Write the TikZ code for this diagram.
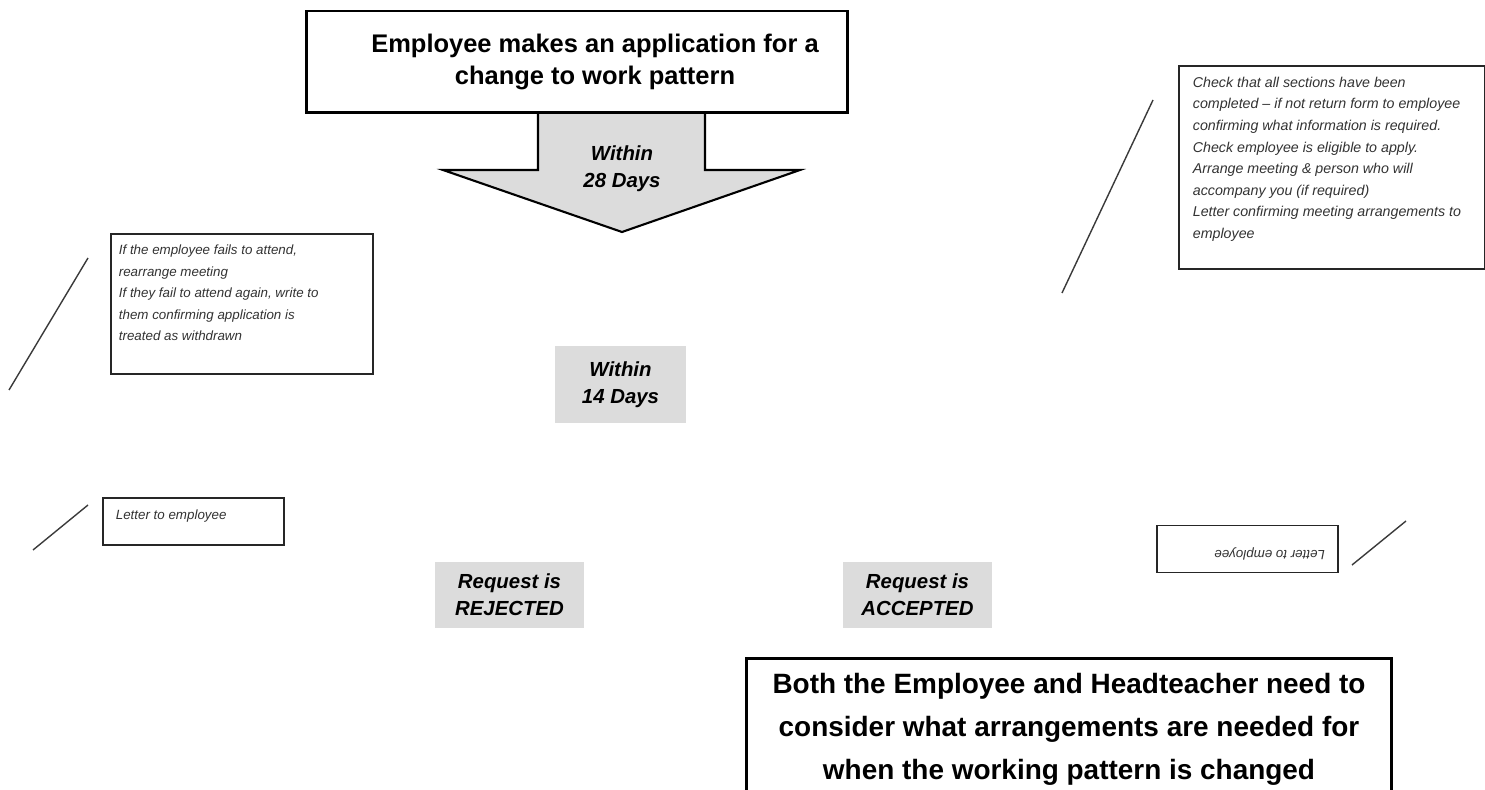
\documentclass[tikz,border=0pt]{standalone}
\usepackage{fontspec}
\setmainfont{Liberation Sans}
\usepackage{tikz}
\usetikzlibrary{positioning}

\definecolor{boxgrey}{HTML}{DCDCDC}
\definecolor{linegrey}{HTML}{3A3A3A}

\tikzset{
  bigbox/.style={draw, line width=1.7pt, inner sep=0pt, align=center},
  greybox/.style={fill=boxgrey, inner sep=0pt, align=center, font=\fontsize{11.6}{15.3}\selectfont\bfseries\itshape},
  notebox/.style={draw=black!85, line width=1pt, fill=white, text=black!80, font=\fontsize{7.6}{12.3}\selectfont\itshape},
  noteline/.style={draw=linegrey, line width=0.8pt}
}

\begin{document}
\begin{tikzpicture}[x=0.02cm, y=-0.02cm]

\useasboundingbox (0,0) rectangle (1485,790);

% block arrow under the first box
\filldraw[fill=boxgrey, draw=black, line width=1.2pt, line join=miter]
  (538,113) -- (538,170) -- (443,170) -- (622,232) -- (800,170) -- (705,170) -- (705,113);
\node[inner sep=0pt, align=center, font=\fontsize{11.6}{15.3}\selectfont\bfseries\itshape] (within28) at (622,169) {Within\\28 Days};

\node[bigbox, fill=white, minimum width=10.84cm, minimum height=2.04cm, font=\fontsize{14.5}{18.1}\selectfont\bfseries] (apply) at (577,62)
  {\hspace*{0.72cm}\begin{tabular}{@{}c@{}}Employee makes an application for a\\change to work pattern\end{tabular}};

\node[greybox, minimum width=2.62cm, minimum height=1.54cm] (within14) at (620.5,384.5) {Within\\14 Days};
\node[greybox, minimum width=2.98cm, minimum height=1.32cm] (rejected) at (509.5,595) {Request is\\REJECTED};
\node[greybox, minimum width=2.98cm, minimum height=1.32cm] (accepted) at (917.5,595) {Request is\\ACCEPTED};

\node[bigbox, minimum width=12.92cm, minimum height=2.84cm, font=\fontsize{15.9}{24.4}\selectfont\bfseries] (consider) at (1069,729) {Both the Employee and Headteacher need to\\consider what arrangements are needed for\\when the working pattern is changed};

% side notes
\node[notebox, anchor=north west, inner xsep=0.16cm, inner ysep=0.22cm] (attend) at (110,233)
  {\parbox[t][2.36cm][t]{4.92cm}{If the employee fails to attend,\\rearrange meeting\\If they fail to attend again, write to\\them confirming application is\\treated as withdrawn}};
\node[notebox, anchor=north west, inner xsep=0.28cm, inner ysep=0.22cm, font=\fontsize{8.1}{12.3}\selectfont\itshape] (check) at (1178,65)
  {\parbox[t][3.62cm][t]{5.56cm}{Check that all sections have been\\completed -- if not return form to employee\\confirming what information is required.\\Check employee is eligible to apply.\\Arrange meeting \& person who will\\accompany you (if required)\\Letter confirming meeting arrangements to\\employee}};
\node[notebox, anchor=north west, inner xsep=0.26cm, inner ysep=0.24cm] (letterl) at (102,497)
  {\parbox[t][0.46cm][t]{3.1cm}{Letter to employee}};
\node[notebox, rotate=180, inner xsep=0.26cm, inner ysep=0.24cm] (letterr) at (1247.5,549)
  {\parbox[t][0.46cm][t]{3.1cm}{Letter to employee}};

% loose strokes beside the notes
\coordinate (attendA) at (88,258);
\coordinate (attendB) at (9,390);
\coordinate (checkA) at (1153,100);
\coordinate (checkB) at (1062,293);
\coordinate (letterlA) at (88,505);
\coordinate (letterlB) at (33,550);
\coordinate (letterrA) at (1406,521);
\coordinate (letterrB) at (1352,565);

\path[noteline]
(attendA) edge (attendB)
(checkA) edge (checkB)
(letterlA) edge (letterlB)
(letterrA) edge (letterrB)
;
\end{tikzpicture}
\end{document}
